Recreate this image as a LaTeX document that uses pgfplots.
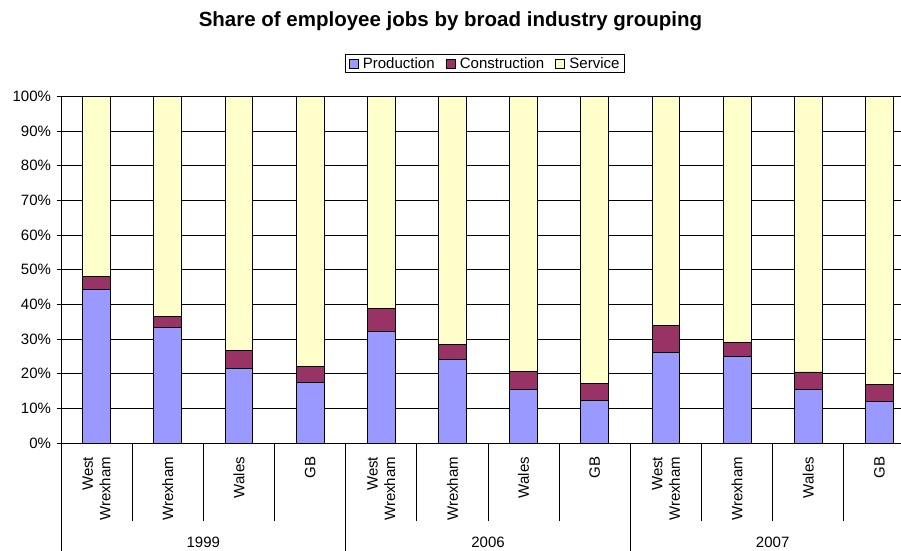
\documentclass[border=0pt]{standalone}
\usepackage{fontspec}
\setmainfont{Liberation Sans}
\usepackage{pgfplots}
\pgfplotsset{compat=1.18}
\definecolor{prod}{HTML}{9999FF}
\definecolor{cons}{HTML}{993366}
\definecolor{serv}{HTML}{FFFFCC}
\newcommand{\lf}{\fontsize{15}{17.5}\selectfont}
\begin{document}
\begin{tikzpicture}
\begin{axis}[
  at={(61pt,-443pt)}, anchor=south west,
  scale only axis, width=854pt, height=346.6pt,
  ybar stacked, bar width=0.39,
  xmin=-0.5, xmax=11.5, ymin=0, ymax=100,
  axis lines*=left,
  axis line style={black, line width=0.8pt},
  xtick=\empty,
  ytick={0,10,20,30,40,50,60,70,80,90,100},
  yticklabels={0\%,10\%,20\%,30\%,40\%,50\%,60\%,70\%,80\%,90\%,100\%},
  tick align=outside, major tick length=4.5pt,
  tick style={black, line width=0.8pt},
  ymajorgrids, grid style={black, line width=0.8pt},
  tick label style={font=\lf},
  yticklabel style={xshift=-2pt},
  clip=false,
  legend columns=3,
  legend style={at={(0.4965,1.095)}, anchor=center, draw=black, line width=0.8pt,
    font=\lf, inner xsep=3pt, inner ysep=1pt,
    /tikz/every even column/.append style={column sep=9pt}},
]
\addplot[fill=prod, draw=black, line width=0.8pt,
  legend image code/.code={\draw[fill=prod,draw=black,line width=0.8pt] (0pt,-4.5pt) rectangle (9pt,4.5pt); \path (11.5pt,0pt);}]
  coordinates {(0,44.4) (1,33.4) (2,21.6) (3,17.5) (4,32.1) (5,24.0) (6,15.4) (7,12.3) (8,26.0) (9,25.1) (10,15.5) (11,12.1)};
\addplot[fill=cons, draw=black, line width=0.8pt,
  legend image code/.code={\draw[fill=cons,draw=black,line width=0.8pt] (0pt,-4.5pt) rectangle (9pt,4.5pt); \path (11.5pt,0pt);}]
  coordinates {(0,3.7) (1,3.0) (2,5.1) (3,4.7) (4,6.8) (5,4.4) (6,5.3) (7,4.9) (8,7.9) (9,4.0) (10,5.0) (11,4.9)};
\addplot[fill=serv, draw=black, line width=0.8pt,
  legend image code/.code={\draw[fill=serv,draw=black,line width=0.8pt] (0pt,-4.5pt) rectangle (9pt,4.5pt); \path (11.5pt,0pt);}]
  coordinates {(0,51.9) (1,63.6) (2,73.3) (3,77.8) (4,61.1) (5,71.6) (6,79.3) (7,82.8) (8,66.1) (9,70.9) (10,79.5) (11,83.0)};
\legend{Production, Construction, Service}
% category separators
\draw[black, line width=0.8pt] (axis cs:0.5,0) -- ([yshift=-77.7pt]axis cs:0.5,0);
\draw[black, line width=0.8pt] (axis cs:1.5,0) -- ([yshift=-77.7pt]axis cs:1.5,0);
\draw[black, line width=0.8pt] (axis cs:2.5,0) -- ([yshift=-77.7pt]axis cs:2.5,0);
\draw[black, line width=0.8pt] (axis cs:4.5,0) -- ([yshift=-77.7pt]axis cs:4.5,0);
\draw[black, line width=0.8pt] (axis cs:5.5,0) -- ([yshift=-77.7pt]axis cs:5.5,0);
\draw[black, line width=0.8pt] (axis cs:6.5,0) -- ([yshift=-77.7pt]axis cs:6.5,0);
\draw[black, line width=0.8pt] (axis cs:8.5,0) -- ([yshift=-77.7pt]axis cs:8.5,0);
\draw[black, line width=0.8pt] (axis cs:9.5,0) -- ([yshift=-77.7pt]axis cs:9.5,0);
\draw[black, line width=0.8pt] (axis cs:10.5,0) -- ([yshift=-77.7pt]axis cs:10.5,0);
% group separators
\draw[black, line width=0.8pt] (axis cs:-0.5,0) -- ([yshift=-110pt]axis cs:-0.5,0);
\draw[black, line width=0.8pt] (axis cs:3.5,0) -- ([yshift=-110pt]axis cs:3.5,0);
\draw[black, line width=0.8pt] (axis cs:7.5,0) -- ([yshift=-110pt]axis cs:7.5,0);
\draw[black, line width=0.8pt] (axis cs:11.5,0) -- ([yshift=-110pt]axis cs:11.5,0);
% category labels
\node[rotate=90, anchor=east, align=right, inner sep=0pt, font=\lf] at ([yshift=-13.7pt]axis cs:0,0) {West\\Wrexham};
\node[rotate=90, anchor=east, align=right, inner sep=0pt, font=\lf] at ([yshift=-13.7pt]axis cs:1,0) {Wrexham};
\node[rotate=90, anchor=east, align=right, inner sep=0pt, font=\lf] at ([yshift=-13.7pt]axis cs:2,0) {Wales};
\node[rotate=90, anchor=east, align=right, inner sep=0pt, font=\lf] at ([yshift=-13.7pt]axis cs:3,0) {GB};
\node[rotate=90, anchor=east, align=right, inner sep=0pt, font=\lf] at ([yshift=-13.7pt]axis cs:4,0) {West\\Wrexham};
\node[rotate=90, anchor=east, align=right, inner sep=0pt, font=\lf] at ([yshift=-13.7pt]axis cs:5,0) {Wrexham};
\node[rotate=90, anchor=east, align=right, inner sep=0pt, font=\lf] at ([yshift=-13.7pt]axis cs:6,0) {Wales};
\node[rotate=90, anchor=east, align=right, inner sep=0pt, font=\lf] at ([yshift=-13.7pt]axis cs:7,0) {GB};
\node[rotate=90, anchor=east, align=right, inner sep=0pt, font=\lf] at ([yshift=-13.7pt]axis cs:8,0) {West\\Wrexham};
\node[rotate=90, anchor=east, align=right, inner sep=0pt, font=\lf] at ([yshift=-13.7pt]axis cs:9,0) {Wrexham};
\node[rotate=90, anchor=east, align=right, inner sep=0pt, font=\lf] at ([yshift=-13.7pt]axis cs:10,0) {Wales};
\node[rotate=90, anchor=east, align=right, inner sep=0pt, font=\lf] at ([yshift=-13.7pt]axis cs:11,0) {GB};
% group labels
\node[anchor=base, inner sep=0pt, font=\lf] at ([yshift=-104.5pt]axis cs:1.5,0) {1999};
\node[anchor=base, inner sep=0pt, font=\lf] at ([yshift=-104.5pt]axis cs:5.5,0) {2006};
\node[anchor=base, inner sep=0pt, font=\lf] at ([yshift=-104.5pt]axis cs:9.5,0) {2007};
\end{axis}
\node[anchor=base, inner sep=0pt, font=\bfseries\fontsize{20.5}{24}\selectfont] at (450.5pt,-26pt) {Share of employee jobs by broad industry grouping};
\pgfresetboundingbox
\path[use as bounding box] (0pt,0pt) rectangle (901pt,-550pt);
\end{tikzpicture}
\end{document}
